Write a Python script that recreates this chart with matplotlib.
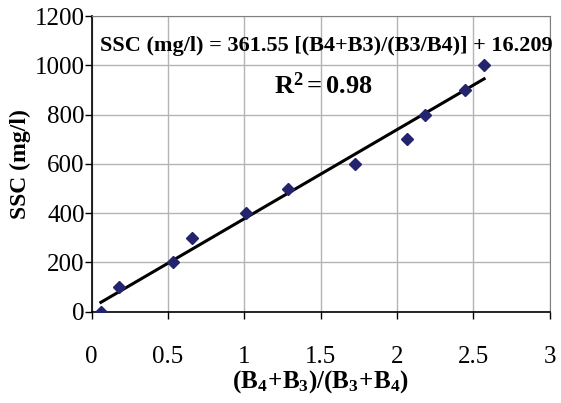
import numpy as np
import matplotlib
matplotlib.use('Agg')
import matplotlib.pyplot as plt

plt.rcParams['font.family'] = ['Liberation Serif', 'DejaVu Serif']
plt.rcParams['mathtext.fontset'] = 'custom'
plt.rcParams['mathtext.rm'] = 'Liberation Serif'
plt.rcParams['mathtext.bf'] = 'Liberation Serif:bold'
plt.rcParams['mathtext.it'] = 'Liberation Serif:italic'

# measured points
ratio = [0.06, 0.18, 0.53, 0.656, 1.01, 1.285, 1.725, 2.068, 2.186, 2.448, 2.57]
ssc = [0, 100, 200, 300, 400, 500, 600, 700, 800, 900, 1000]

slope = 361.55
intercept = 16.209

xticks = [0, 0.5, 1, 1.5, 2, 2.5, 3]
xticklabels = ['0', '0.5', '1', '1.5', '2', '2.5', '3']
yticks = [0, 200, 400, 600, 800, 1000, 1200]

fig = plt.figure(figsize=(5.61, 4.03), dpi=100)
ax = fig.add_axes([0.1635, 0.2266, 0.8165, 0.7334])

ax.grid(True, color='#b4b4b4', lw=1)
ax.set_axisbelow(True)

xfit = np.array([min(ratio), max(ratio)])
ax.plot(xfit, slope * xfit + intercept, color='black', lw=2.2, zorder=3)
ax.plot(ratio, ssc, 'D', color='#23236e', markersize=6, zorder=4)

ax.set_xlim(0, 3)
ax.set_ylim(0, 1200)
ax.set_xticks(xticks)
ax.set_xticklabels(xticklabels)
ax.set_yticks(yticks)
ax.tick_params(axis='both', labelsize=18, direction='out', length=5, width=1, color='black')
ax.tick_params(axis='x', pad=20)
ax.tick_params(axis='y', pad=0)

for s in ['top', 'right']:
    ax.spines[s].set_color('#808080')
for s in ['left', 'bottom']:
    ax.spines[s].set_color('black')
    ax.spines[s].set_linewidth(1.2)

ax.set_ylabel('SSC (mg/l)', fontsize=17, fontweight='bold', labelpad=3)
ax.set_xlabel(r'$\mathbf{(B_4\!+\!B_3)/(B_3\!+\!B_4)}$', fontsize=18, labelpad=0)

ax.text(0.513, 0.8975, 'SSC (mg/l) = 361.55 [(B4+B3)/(B3/B4)] + 16.209',
        transform=ax.transAxes, ha='center', va='center', fontsize=16, fontweight='bold')
ax.text(0.507, 0.764, r'$\mathbf{R^2 = 0.98}$', transform=ax.transAxes,
        ha='center', va='center', fontsize=19)

fig.savefig('out.png', dpi=100)
